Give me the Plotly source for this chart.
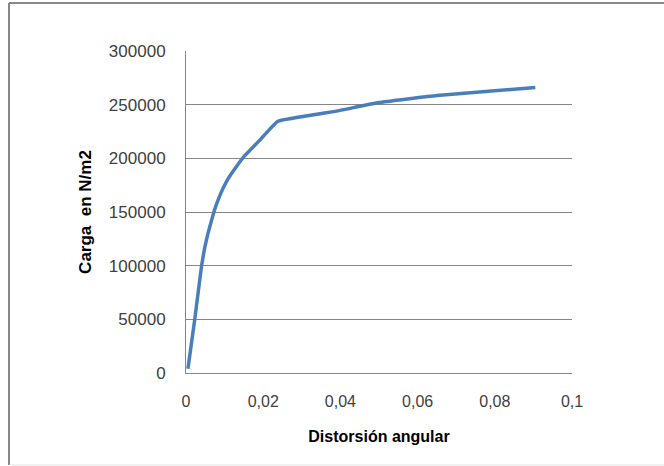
import plotly.graph_objects as go

distorsion = [0.0005, 0.00225, 0.0040, 0.0048, 0.0057, 0.0066, 0.0074, 0.0085, 0.0098,
              0.011, 0.0122, 0.0135, 0.0150, 0.019, 0.0238, 0.039, 0.050, 0.065, 0.0905]
carga = [4000, 49500, 99000, 116000, 130000, 142000, 152000, 163000, 173500,
         181500, 188000, 194500, 201500, 216500, 234500, 244000, 252000, 258500, 266000]

x_ticks = [0, 0.02, 0.04, 0.06, 0.08, 0.1]
x_ticklabels = ["0", "0,02", "0,04", "0,06", "0,08", "0,1"]
y_ticks = [0, 50000, 100000, 150000, 200000, 250000, 300000]

W, H = 664, 466
L, R, T, B = 186, 92, 51, 93
pw, ph = W - L - R, H - T - B

def px(x):
    return (x - L) / pw

def py(y):
    return (H - B - y) / ph

fig = go.Figure()
fig.add_trace(go.Scatter(
    x=distorsion, y=carga, mode="lines",
    line=dict(color="#4a7ebb", width=3.5, shape="spline", smoothing=0.25),
    showlegend=False, hoverinfo="skip",
))

font_family = "Liberation Sans, Arial, sans-serif"
fig.update_layout(
    width=W, height=H,
    margin=dict(l=L, r=R, t=T, b=B),
    paper_bgcolor="white", plot_bgcolor="white",
    font=dict(family=font_family, size=16, color="#404040"),
    xaxis=dict(
        range=[0, 0.1], tickvals=x_ticks, ticktext=x_ticklabels,
        showgrid=False, zeroline=False, showline=True, linecolor="#868686", linewidth=1,
        ticks="", ticklabelstandoff=14,
        title=dict(text="<b>Distorsión angular</b>", font=dict(size=16, color="#000000"), standoff=21),
    ),
    yaxis=dict(
        range=[0, 300000], tickvals=y_ticks, tickformat="d",
        tickfont=dict(size=17),
        showgrid=True, gridcolor="#868686", gridwidth=1, zeroline=False,
        showline=True, linecolor="#868686", linewidth=1,
        ticks="", ticklabelstandoff=16,
        title=dict(text="<b>Carga  en N/m2</b>", font=dict(size=17, color="#000000"), standoff=12),
    ),
    shapes=[
        dict(type="line", xref="paper", yref="paper", x0=px(9), x1=px(9), y0=py(3), y1=py(465),
             line=dict(color="#878787", width=2)),
        dict(type="line", xref="paper", yref="paper", x0=px(9), x1=px(680), y0=py(3), y1=py(3),
             line=dict(color="#878787", width=2)),
        dict(type="line", xref="paper", yref="paper", x0=px(9), x1=px(680), y0=py(465), y1=py(465),
             line=dict(color="#e3e3e3", width=1)),
    ],
)

fig.write_html("out.html")
